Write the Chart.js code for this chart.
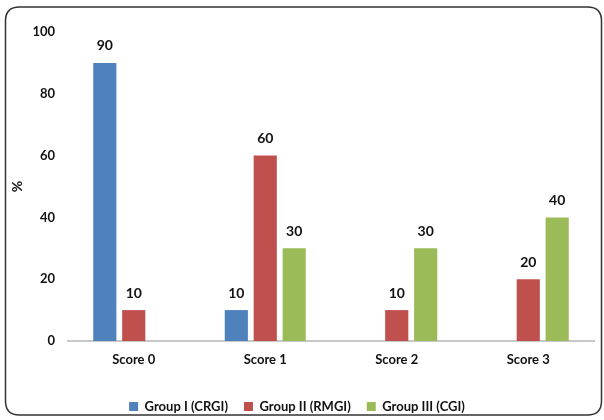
<!DOCTYPE html>
<html><head><meta charset="utf-8">
<script src="https://cdn.jsdelivr.net/npm/chart.js@4/dist/chart.umd.min.js"></script>
<style>html,body{margin:0;padding:0;background:#fff}#wrap{width:604px;height:420px;position:relative}</style>
</head><body><div id="wrap"><canvas id="c" width="604" height="420"></canvas></div>
<script>
const categories = ['Score 0', 'Score 1', 'Score 2', 'Score 3'];
const groupI = [90, 10, 0, 0];
const groupII = [10, 60, 10, 20];
const groupIII = [0, 30, 30, 40];
const seriesNames = ['Group I (CRGI)', 'Group II (RMGI)', 'Group III (CGI)'];
const colors = ['#4F81BD', '#C0504D', '#9BBB59'];
const FONT = 'Lato, "Open Sans", sans-serif';

const frame = {
  id: 'frame',
  beforeDraw(chart) {
    const ctx = chart.ctx;
    ctx.save();
    ctx.fillStyle = '#fff';
    ctx.fillRect(0, 0, chart.width, chart.height);
    ctx.strokeStyle = '#333';
    ctx.lineWidth = 1.5;
    const x = 5.5, y = 7, w = 596, h = 408, r = 14;
    ctx.beginPath();
    ctx.moveTo(x + r, y);
    ctx.lineTo(x + w - r, y);
    ctx.quadraticCurveTo(x + w, y, x + w, y + r);
    ctx.lineTo(x + w, y + h - r);
    ctx.quadraticCurveTo(x + w, y + h, x + w - r, y + h);
    ctx.lineTo(x + r, y + h);
    ctx.quadraticCurveTo(x, y + h, x, y + h - r);
    ctx.lineTo(x, y + r);
    ctx.quadraticCurveTo(x, y, x + r, y);
    ctx.stroke();
    ctx.restore();
  }
};
const valueLabels = {
  id: 'valueLabels',
  afterDatasetsDraw(chart) {
    const ctx = chart.ctx;
    ctx.save();
    ctx.font = 'bold 14px ' + FONT;
    ctx.fillStyle = '#111';
    ctx.textAlign = 'center';
    ctx.textBaseline = 'bottom';
    chart.data.datasets.forEach((ds, i) => {
      chart.getDatasetMeta(i).data.forEach((bar, j) => {
        const v = ds.data[j];
        if (!v) return;
        ctx.fillText(String(v), bar.x, bar.y - 10);
      });
    });
    ctx.restore();
  }
};

new Chart(document.getElementById('c'), {
  type: 'bar',
  data: {
    labels: categories,
    datasets: [groupI, groupII, groupIII].map((d, i) => ({
      label: seriesNames[i], data: d, backgroundColor: colors[i],
      categoryPercentage: 0.66, barPercentage: 0.8
    }))
  },
  options: {
    responsive: false, animation: false,
    layout: { padding: { top: 32, right: 10, bottom: -3, left: 0 } },
    plugins: {
      tooltip: { enabled: false },
      legend: {
        position: 'bottom',
        labels: { boxWidth: 9, boxHeight: 9, padding: 16, color: '#111',
          font: { family: FONT, size: 13, weight: 'bold' } }
      }
    },
    scales: {
      x: {
        grid: { display: false, drawTicks: false },
        border: { display: true, color: '#c8c8c8', width: 2 },
        ticks: { color: '#111', padding: 11, font: { family: FONT, size: 13, weight: 'bold' } },
        afterFit(s) { s.height = 43; }
      },
      y: {
        min: 0, max: 100,
        ticks: { stepSize: 20, color: '#111', padding: 13, font: { family: FONT, size: 13, weight: 'bold' } },
        grid: { display: false, drawTicks: false },
        border: { display: false },
        title: { display: true, text: '%', color: '#111', font: { family: FONT, size: 14, weight: 'bold' }, padding: { top: 9, bottom: 0 } },
        afterFit(s) { s.width = 68; }
      }
    }
  },
  plugins: [frame, valueLabels]
});
</script></body></html>
